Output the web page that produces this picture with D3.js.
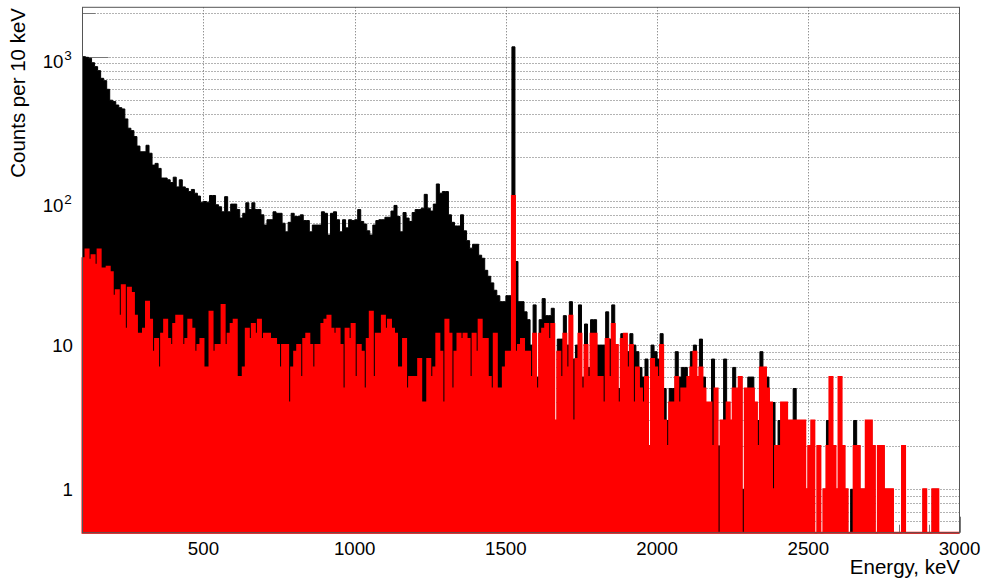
<!DOCTYPE html>
<html><head><meta charset="utf-8">
<script src="https://cdn.jsdelivr.net/npm/d3@7"></script>
<style>body{margin:0;background:#fff}</style>
</head><body><svg id="c" width="982" height="579"></svg>
<script>
// histogram binning: 10 keV bins from 100 keV to 3000 keV
const binStart = 100, binWidth = 10;
// all events (black), one line per 100 keV
const totalCounts = [
1000,990,975,908,853,800,708,682,594,499,
488,462,443,434,370,319,307,279,240,219,
219,243,214,177,182,168,144,144,140,134,
146,125,140,125,122,116,120,113,108,98,
99,98,109,109,94,91,84,107,84,95,
95,87,76,82,97,87,97,87,87,80,
68,74,74,84,82,82,70,61,71,82,
78,78,80,73,73,61,68,68,68,84,
82,58,82,84,74,61,74,65,74,73,
74,87,72,69,62,58,68,73,74,74,
77,77,85,93,78,61,83,76,72,83,
87,87,89,111,89,85,95,131,113,116,
116,80,71,67,67,80,62,53,47,50,
50,42,40,33,30,27,24,22,20,20,
22,22,1170,38,20,20,17,15,10,19,
6,15,21,16,16,18,3,11,11,16,
10,20,8,10,19,6,14,7,15,15,
10,10,10,17,11,19,10,5,12,12,
9,12,10,9,7,6,8,2,10,9,
8,12,5,3,5,5,9,6,7,7,
6,9,10,6,11,6,4,4,8,5,
2,3,8,4,3,7,5,6,1,5,
6,6,4,3,9,7,6,4,4,2,
3,4,4,3,3,5,3,3,3,1,
2,3,0,2,0,1,3,6,2,1,
6,2,1,0,1,3,2,1,1,3,
3,2,0,2,2,1,1,1,0,0,
0,2,0,0,0,0,0,0,1,0,
0,1,1,0,0,0,0,0,0,0
];
// selected events (red)
const selectedCounts = [
40,46,39,42,36,46,34,34,35,32,
22,24,16,26,13,25,23,16,12,12,
13,20,15,9,11,7,12,15,11,10,
14,16,16,10,11,15,13,9,10,11,
7,7,17,9,10,10,19,10,12,14,
15,6,6,7,13,11,14,12,15,11,
12,12,11,11,10,7,10,10,4,7,
9,10,6,11,12,10,7,10,10,14,
15,16,13,12,13,10,5,13,11,14,
6,10,9,5,11,17,6,12,12,16,
13,15,13,12,7,7,11,5,6,6,
6,8,4,4,8,6,7,12,9,4,
15,12,5,9,12,11,12,11,6,12,
9,15,11,11,6,5,12,5,5,7,
9,9,108,9,10,11,9,9,6,12,
5,12,13,14,11,14,3,9,6,12,
7,16,3,8,12,5,10,6,12,12,
6,6,4,11,6,14,10,4,11,12,
7,10,4,7,5,4,6,2,8,7,
6,10,3,2,4,4,6,4,5,5,
6,7,9,6,7,5,4,4,2,5,
0,3,3,4,3,5,5,6,0,5,
5,5,4,2,7,7,5,4,1,2,
2,4,4,3,3,3,3,3,3,1,
2,3,0,2,0,1,2,6,2,1,
6,2,1,0,0,2,2,1,1,3,
3,2,0,2,2,1,1,1,0,0,
0,2,0,0,0,0,0,0,1,0,
0,1,1,0,0,0,0,0,0,0
];
const xTickLabels = [500, 1000, 1500, 2000, 2500, 3000];
const yDecades = [1, 10, 100, 1000];
const yDecadeExp = [null, null, 2, 3];
const xTitle = "Energy, keV";
const yTitle = "Counts per 10 keV";

const W = 982, H = 579;
const L = 82.5, R = 959.5, T = 7.3, B = 532.7;
const FONT = "'Liberation Sans', Arial, Helvetica, sans-serif";

const x = d3.scaleLinear().domain([100, 3000]).range([L, R]);
const y = d3.scaleLog().domain([0.5, 2200]).range([B, T]);

const svg = d3.select('#c');
svg.append('rect').attr('width', W).attr('height', H).attr('fill', '#fff');

// grid values
const gridY = [];
[0.1, 1, 10, 100, 1000].forEach(d => {
  for (let m = 1; m <= 9; m++) {
    const v = +(d * m).toFixed(6);
    if (v > 0.5 && v < 2200) gridY.push(v);
  }
});
const gridX = [500, 1000, 1500, 2000, 2500];

const grid = svg.append('g').attr('stroke', '#666').attr('stroke-width', 1).attr('stroke-dasharray', '1,2');
grid.selectAll('line.gy').data(gridY).join('line').attr('class', 'gy')
  .attr('x1', L).attr('x2', R).attr('y1', d => Math.round(y(d)) + 0.5).attr('y2', d => Math.round(y(d)) + 0.5);
grid.selectAll('line.gx').data(gridX).join('line').attr('class', 'gx')
  .attr('y1', T).attr('y2', B).attr('x1', d => Math.round(x(d)) + 0.5).attr('x2', d => Math.round(x(d)) + 0.5);

// ticks (under the histograms)
const ticks = svg.append('g').attr('stroke', '#777').attr('stroke-width', 1);
const minorY = gridY.filter(v => !yDecades.includes(v));
ticks.selectAll('line.my').data(minorY).join('line').attr('class', 'my')
  .attr('x1', L).attr('x2', L + 13).attr('y1', d => Math.round(y(d)) + 0.5).attr('y2', d => Math.round(y(d)) + 0.5);
ticks.selectAll('line.My').data(yDecades).join('line').attr('class', 'My')
  .attr('x1', L).attr('x2', L + 26).attr('y1', d => Math.round(y(d)) + 0.5).attr('y2', d => Math.round(y(d)) + 0.5);
const minorX = d3.range(200, 3000, 100).filter(v => v % 500 !== 0);
ticks.selectAll('line.mx').data(minorX).join('line').attr('class', 'mx')
  .attr('y1', B).attr('y2', B - 8).attr('x1', d => Math.round(x(d)) + 0.5).attr('x2', d => Math.round(x(d)) + 0.5);
ticks.selectAll('line.Mx').data(xTickLabels).join('line').attr('class', 'Mx')
  .attr('y1', B).attr('y2', B - 16).attr('x1', d => Math.round(x(d)) + 0.5).attr('x2', d => Math.round(x(d)) + 0.5);

// histogram step path
function histPath(counts) {
  let p = `M${x(binStart)},${B}`;
  counts.forEach((c, i) => {
    const e0 = binStart + i * binWidth, e1 = e0 + binWidth;
    const yy = c > 0 ? y(c) : B;
    p += `L${x(e0)},${yy}L${x(e1)},${yy}`;
  });
  p += `L${x(binStart + counts.length * binWidth)},${B}Z`;
  return p;
}
svg.append('path').attr('d', histPath(totalCounts)).attr('fill', '#000').attr('stroke', '#000').attr('stroke-width', 1);
svg.append('path').attr('d', histPath(selectedCounts)).attr('fill', '#ff0000').attr('stroke', '#ff0000').attr('stroke-width', 2);

// frame
svg.append('rect').attr('x', L).attr('y', T).attr('width', R - L).attr('height', B - T)
  .attr('fill', 'none').attr('stroke', '#555').attr('stroke-width', 1);

// x tick labels
svg.append('g').selectAll('text').data(xTickLabels).join('text')
  .attr('x', d => x(d)).attr('y', 555).attr('text-anchor', 'middle')
  .attr('font-family', FONT).attr('font-size', 18.7).attr('fill', '#000').text(d => d);

// y tick labels
const yl = svg.append('g').attr('font-family', FONT).attr('fill', '#000');
yDecades.forEach((v, i) => {
  const ty = y(v);
  if (yDecadeExp[i] === null) {
    yl.append('text').attr('x', 73).attr('y', ty + 6.6).attr('text-anchor', 'end')
      .attr('font-size', 18.7).text(String(v));
  } else {
    yl.append('text').attr('x', 63.5).attr('y', ty + 11).attr('text-anchor', 'end')
      .attr('font-size', 18.7).text('10');
    yl.append('text').attr('x', 64.3).attr('y', ty + 3).attr('text-anchor', 'start')
      .attr('font-size', 13.5).text(String(yDecadeExp[i]));
  }
});

// titles
svg.append('text').attr('x', 960).attr('y', 574).attr('text-anchor', 'end')
  .attr('font-family', FONT).attr('font-size', 20.5).attr('fill', '#000').text(xTitle);
svg.append('text').attr('transform', 'translate(24.5,8) rotate(-90)').attr('text-anchor', 'end')
  .attr('font-family', FONT).attr('font-size', 20.5).attr('fill', '#000').text(yTitle);
</script>
</body></html>
